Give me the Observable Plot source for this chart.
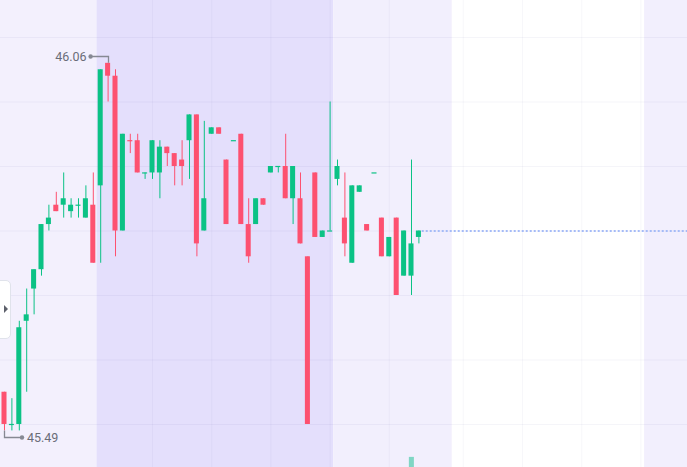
<!DOCTYPE html>
<html><head><meta charset="utf-8">
<script src="https://cdn.jsdelivr.net/npm/d3@7"></script>
<script src="https://cdn.jsdelivr.net/npm/@observablehq/plot@0.6"></script>
<style>
html,body{margin:0;padding:0;background:#fff;overflow:hidden;}
#chart{position:relative;width:687px;height:467px;}
#chart svg{display:block;position:absolute;left:0;top:0;}
.tab{position:absolute;left:-6px;top:280px;width:15px;height:57px;background:#fff;border:1px solid #e0e3eb;border-radius:5px;z-index:2;}
.tab:after{content:"";position:absolute;left:9px;top:24px;border-left:4px solid #5d606b;border-top:4px solid transparent;border-bottom:4px solid transparent;}
</style></head>
<body><div id="chart"></div>
<script>
// OHLC per bar (bar index = position in array)
const open  = [45.55,45.50,45.50,45.66,45.71,45.74,45.81,45.84,45.84,45.83,45.84,45.82,45.84,45.87,46.06,46.04,45.80,45.94,45.94,45.89,45.89,45.89,45.93,45.92,45.91,45.94,45.98,45.80,45.95,45.96,45.91,45.94,45.95,45.81,45.81,45.85,45.89,45.90,45.90,45.85,45.85,45.76,45.89,45.79,45.80,45.88,45.82,45.75,45.86,45.81,45.89,45.82,45.76,45.82,45.73,45.73,45.79];
const high  = [45.55,45.54,45.66,45.71,45.74,45.81,45.84,45.86,45.89,45.85,45.85,45.87,45.89,46.05,46.06,46.05,45.95,45.95,45.95,45.89,45.94,45.94,45.93,45.92,45.94,45.98,45.98,45.97,45.96,45.96,45.91,45.94,45.95,45.85,45.85,45.85,45.90,45.90,45.95,45.90,45.89,45.76,45.89,45.80,46.00,45.91,45.89,45.87,45.87,45.81,45.89,45.82,45.79,45.82,45.80,45.91,45.80];
const low   = [45.49,45.49,45.49,45.55,45.67,45.73,45.80,45.83,45.82,45.82,45.82,45.82,45.75,45.75,46.00,45.76,45.80,45.92,45.89,45.88,45.88,45.85,45.90,45.87,45.87,45.88,45.76,45.80,45.95,45.95,45.81,45.94,45.81,45.75,45.81,45.84,45.89,45.89,45.85,45.81,45.78,45.50,45.79,45.79,45.80,45.87,45.76,45.75,45.86,45.80,45.89,45.76,45.76,45.70,45.73,45.70,45.78];
const close = [45.50,45.50,45.65,45.67,45.74,45.81,45.82,45.83,45.85,45.84,45.84,45.85,45.75,46.05,46.04,45.80,45.95,45.94,45.89,45.89,45.94,45.93,45.92,45.90,45.90,45.98,45.78,45.85,45.96,45.95,45.81,45.94,45.81,45.76,45.85,45.84,45.90,45.90,45.85,45.90,45.78,45.50,45.79,45.80,45.80,45.90,45.78,45.87,45.87,45.80,45.89,45.76,45.79,45.70,45.80,45.78,45.80];

// session shading (in bar-index units)
const sessionStart = [-2, 12.5, 44.5, 86.5];
const sessionEnd   = [12.5, 44.5, 60.5, 95];
const sessionFill  = ["#f3f0fd", "#e4dffc", "#f2effd", "#f2effd"];

// grid
const gridPrices = [45.5, 45.6, 45.7, 45.8, 45.9, 46.0, 46.1];
const gridBars = [20, 28, 36, 44, 52, 62, 70, 78, 86];

// visible volume bar (top edge in price units of the overlay)
const volumeBar = [55];
const volumeLevel = [45.449];

const UP = "#0bc285", DOWN = "#fd5170";
const halfW = 0.34;
const xDomain = [-0.5405, 92.297];
const yDomain = [45.4333, 46.1574];

const candles = open.map((o, i) => {
  const c = close[i];
  const up = c > o || (c === o && (i === 0 || c >= close[i - 1]));
  return {i, o, h: high[i], l: low[i], c, col: up ? UP : DOWN};
});
const sessions = sessionStart.map((s, k) => ({s, e: sessionEnd[k], fill: sessionFill[k]}));
const vols = volumeBar.map((i, k) => ({i, v: volumeLevel[k]}));
const last = candles[candles.length - 1];

const plot = Plot.plot({
  width: 687, height: 467, margin: 0,
  style: {background: "#ffffff", overflow: "visible"},
  x: {domain: xDomain, axis: null},
  y: {domain: yDomain, axis: null},
  color: {type: "identity"},
  marks: [
    Plot.rect(sessions, {x1: "s", x2: "e", y1: yDomain[0], y2: yDomain[1], fill: "fill"}),
    Plot.ruleY(gridPrices, {stroke: "#4a4090", strokeOpacity: 0.055}),
    Plot.ruleX(gridBars, {stroke: "#4a4090", strokeOpacity: 0.045}),
    Plot.rect(vols, {x1: d => d.i - halfW + 0.05, x2: d => d.i + halfW + 0.05, y1: yDomain[0], y2: "v", fill: "#80d6c4"}),
    Plot.ruleY([last], {y: "c", x1: d => d.i + 0.45, x2: xDomain[1], stroke: "#a5bbf7", strokeWidth: 2, strokeDasharray: "2,2"}),
    Plot.ruleX(candles, {x: "i", y1: "l", y2: "h", stroke: "col", strokeWidth: 1}),
    Plot.rect(candles.filter(d => d.o !== d.c), {x1: d => d.i - halfW, x2: d => d.i + halfW, y1: "o", y2: "c", fill: "col"}),
    Plot.ruleY(candles.filter(d => d.o === d.c), {y: "c", x1: d => d.i - halfW, x2: d => d.i + halfW, stroke: "col", strokeWidth: 1.2})
  ]
});

const chart = document.getElementById("chart");
chart.appendChild(plot);
const tab = document.createElement("div");
tab.className = "tab";
chart.appendChild(tab);

// high / low annotations
const sx = plot.scale("x"), sy = plot.scale("y");
let hi = candles[0], lo = candles[0];
for (const d of candles) { if (d.h > hi.h) hi = d; if (d.l < lo.l) lo = d; }
const svg = d3.select(plot);
const g = svg.append("g");
const lineCol = "#868993", textCol = "#6a6d78";
const font = "Roboto, 'Trebuchet MS', sans-serif";
{
  const px = sx.apply(hi.i), py = sy.apply(hi.h);
  const ly = Math.round(py - 6.5) + 0.5;
  g.append("path").attr("d", `M${Math.round(px)+0.5},${py}V${ly}H${px - 17}`).attr("fill", "none").attr("stroke", lineCol).attr("stroke-width", 1.3);
  g.append("circle").attr("cx", px - 17).attr("cy", ly).attr("r", 2.2).attr("fill", lineCol);
  g.append("text").attr("x", px - 21).attr("y", ly).attr("dy", "0.36em").attr("text-anchor", "end")
    .attr("font-family", font).attr("font-size", 12.5).attr("fill", textCol).text(hi.h.toFixed(2));
}
{
  const px = sx.apply(lo.i), py = sy.apply(lo.l);
  const ly = Math.round(py + 6.5) + 0.5;
  g.append("path").attr("d", `M${Math.round(px)+0.5},${py}V${ly}H${px + 18}`).attr("fill", "none").attr("stroke", lineCol).attr("stroke-width", 1.3);
  g.append("circle").attr("cx", px + 18).attr("cy", ly).attr("r", 2.2).attr("fill", lineCol);
  g.append("text").attr("x", px + 23).attr("y", ly).attr("dy", "0.36em").attr("text-anchor", "start")
    .attr("font-family", font).attr("font-size", 12.5).attr("fill", textCol).text(lo.l.toFixed(2));
}
</script>
</body></html>
